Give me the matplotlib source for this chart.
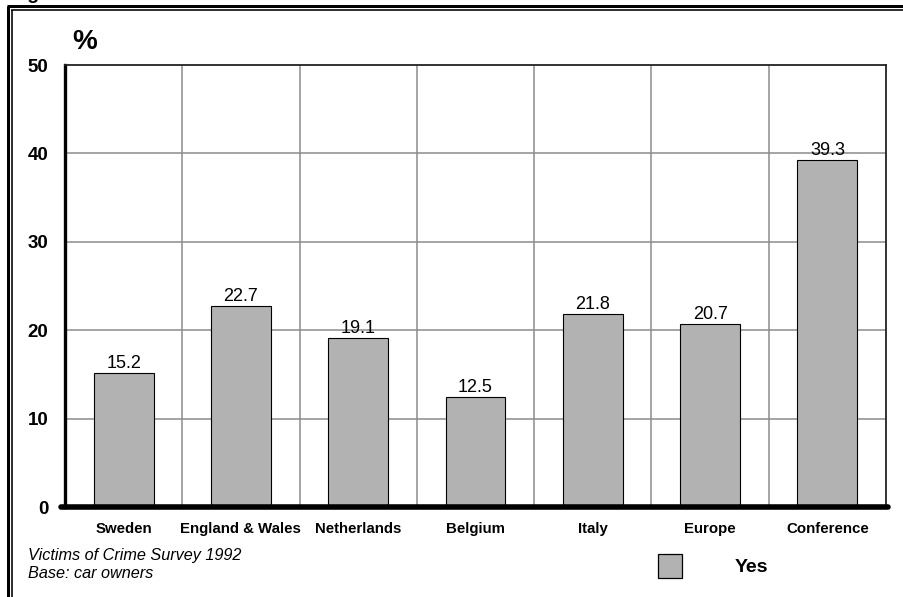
import matplotlib
matplotlib.use("Agg")
import matplotlib.pyplot as plt
from matplotlib.lines import Line2D
from matplotlib.patches import Rectangle

plt.rcParams['font.family'] = ['Liberation Sans', 'DejaVu Sans']

countries = ["Sweden", "England & Wales", "Netherlands", "Belgium",
             "Italy", "Europe", "Conference"]
yes_pct = [15.2, 22.7, 19.1, 12.5, 21.8, 20.7, 39.3]
y_ticks = [0, 10, 20, 30, 40, 50]
series_name = "Yes"
source_lines = ["Victims of Crime Survey 1992", "Base: car owners"]

BAR_GREY = "#b2b2b2"
GRID_GREY = "#8c8c8c"

W, H = 904, 597
fig = plt.figure(figsize=(W / 100, H / 100), dpi=100)

# double frame along the top and left edges
for lw, off in [(3.0, 7.5), (1.6, 11.8)]:
    fig.add_artist(Line2D([off / W, off / W], [0, 1 - (off - 2) / H],
                          transform=fig.transFigure, color="black",
                          lw=lw * 0.72, solid_capstyle="butt"))
    fig.add_artist(Line2D([(off - 0.8) / W, 1], [1 - (off - 2) / H, 1 - (off - 2) / H],
                          transform=fig.transFigure, color="black",
                          lw=lw * 0.72, solid_capstyle="butt"))

# heading sitting just above the top edge (only its descender shows)
fig.text(11 / W, 1 + 1 / H, "Fig", fontsize=14, fontweight="bold",
         ha="left", va="baseline")

ax = fig.add_axes([65 / W, (H - 507) / H, (886 - 65) / W, (507 - 65) / H])
n = len(countries)
x = list(range(n))
ax.set_xlim(-0.5, n - 0.5)
ax.set_ylim(0, 50)

# grid: horizontal at each tick, vertical at category boundaries
for yv in y_ticks[1:-1]:
    ax.axhline(yv, color=GRID_GREY, lw=1.1, zorder=1)
for b in range(1, n):
    ax.axvline(b - 0.5, color=GRID_GREY, lw=1.1, zorder=1)

bars = ax.bar(x, yes_pct, width=0.51, color=BAR_GREY, edgecolor="black",
              linewidth=0.8, zorder=2)
for xi, v in zip(x, yes_pct):
    ax.text(xi, v + 0.1, f"{v:.1f}", ha="center", va="bottom",
            fontsize=13, zorder=4)

for side in ["top", "right"]:
    ax.spines[side].set_linewidth(1.3)
    ax.spines[side].set_color("#222222")
ax.spines["left"].set_linewidth(2.4)
ax.spines["bottom"].set_visible(False)
ax.add_line(Line2D([-0.005, 1.003], [0, 0], transform=ax.transAxes,
                   color="black", lw=4.0, solid_capstyle="round",
                   clip_on=False, zorder=5))

ax.set_yticks(y_ticks)
ax.set_yticklabels([str(t) for t in y_ticks], fontsize=13.5, fontweight="bold")
ax.set_xticks(x)
ax.set_xticklabels(countries, fontsize=10.8, fontweight="bold")
ax.tick_params(axis="y", length=0, pad=12)
ax.tick_params(axis="x", length=0, pad=11)

fig.text(72 / W, 1 - 49 / H, "%", fontsize=20, fontweight="bold",
         ha="left", va="baseline")

fig.text(28 / W, 1 - 560 / H, source_lines[0], fontsize=11.7,
         style="italic", ha="left", va="baseline")
fig.text(28 / W, 1 - 578 / H, source_lines[1], fontsize=11.7,
         style="italic", ha="left", va="baseline")

# legend swatch and label
fig.add_artist(Rectangle((658 / W, 1 - 578 / H), 24 / W, 24 / H,
                         transform=fig.transFigure, facecolor=BAR_GREY,
                         edgecolor="black", linewidth=0.9))
fig.text(735 / W, 1 - 572 / H, series_name, fontsize=14, fontweight="bold",
         ha="left", va="baseline")

fig.savefig("out.png", dpi=100)
